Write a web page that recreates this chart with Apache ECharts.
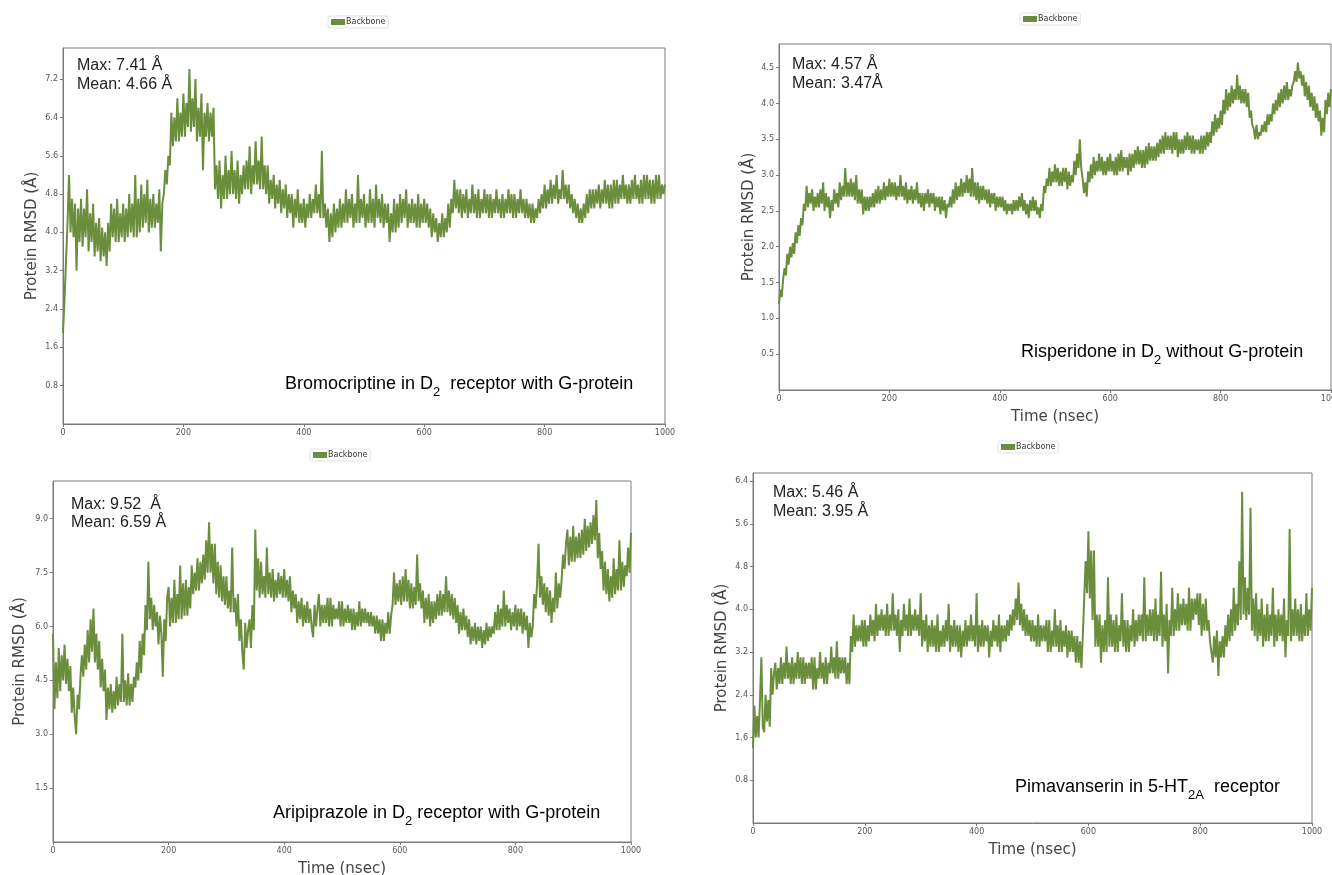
<!DOCTYPE html>
<html>
<head>
<meta charset="utf-8">
<title>Protein RMSD</title>
<script src="https://cdn.jsdelivr.net/npm/echarts@6/dist/echarts.min.js"></script>
<style>
  html, body { margin: 0; padding: 0; background: #fff; }
  #chart { width: 1332px; height: 875px; }
</style>
</head>
<body>
<div id="chart"></div>
<script>
// one RMSD reading every 2.5 ns, 0 .. 1000 ns (each row = 50 ns)
var bromocriptine = [
  1.9, 2.6, 3.4, 4.2, 5.2, 4.0, 4.7, 3.9, 4.6, 3.2, 4.5, 3.8, 4.7, 3.7, 4.5, 3.9, 4.9, 3.6, 4.4, 3.8,
  4.6, 3.5, 4.2, 3.6, 4.3, 3.4, 4.1, 3.5, 4.0, 3.3, 4.2, 3.6, 4.6, 3.9, 4.5, 3.8, 4.7, 3.8, 4.4, 3.9,
  4.6, 3.8, 4.5, 3.9, 4.8, 4.0, 4.6, 3.9, 5.2, 3.9, 4.7, 4.0, 5.0, 4.1, 4.8, 4.2, 5.1, 4.0, 4.7, 4.1,
  4.8, 4.1, 4.6, 4.2, 4.9, 3.6, 4.6, 4.8, 5.3, 5.0, 5.6, 5.4, 6.5, 5.8, 6.4, 5.9, 6.8, 5.9, 6.5, 6.0,
  6.9, 6.0, 6.7, 6.2, 7.41, 6.1, 6.8, 6.2, 7.2, 5.9, 6.6, 6.0, 6.9, 5.3, 6.5, 6.0, 6.7, 5.9, 6.5, 6.0,
  6.6, 4.9, 5.4, 4.7, 5.5, 4.5, 5.2, 4.7, 5.6, 4.7, 5.3, 4.8, 5.7, 4.8, 5.3, 4.7, 5.5, 4.6, 5.2, 4.8,
  5.4, 4.9, 5.5, 4.9, 5.8, 4.8, 5.4, 5.0, 5.9, 5.0, 5.5, 4.9, 6.0, 4.9, 5.4, 4.8, 5.4, 4.6, 5.1, 4.7,
  5.2, 4.5, 5.0, 4.6, 5.1, 4.4, 4.9, 4.5, 5.0, 4.3, 4.8, 4.4, 4.8, 4.1, 4.7, 4.3, 4.9, 4.2, 4.6, 4.2,
  4.7, 4.1, 4.6, 4.3, 4.8, 4.3, 4.7, 4.4, 5.0, 4.4, 4.8, 4.3, 5.7, 4.3, 4.6, 4.1, 4.5, 3.8, 4.4, 3.9,
  4.6, 4.0, 4.5, 4.1, 4.7, 4.1, 4.6, 4.2, 4.9, 4.2, 4.7, 4.3, 4.8, 4.1, 4.6, 4.2, 5.2, 4.2, 4.7, 4.3,
  4.8, 4.1, 4.6, 4.2, 4.9, 4.2, 4.7, 4.1, 5.0, 4.3, 4.7, 4.2, 4.8, 4.1, 4.6, 4.2, 4.6, 3.8, 4.4, 4.0,
  4.7, 4.0, 4.6, 4.1, 4.8, 4.2, 4.7, 4.3, 4.9, 4.1, 4.6, 4.2, 4.7, 4.2, 4.6, 4.1, 4.8, 4.1, 4.6, 4.2,
  4.7, 4.2, 4.6, 4.1, 4.5, 3.9, 4.4, 4.0, 4.3, 3.8, 4.2, 3.9, 4.4, 3.9, 4.3, 4.0, 4.6, 4.1, 4.7, 4.4,
  5.1, 4.5, 4.9, 4.4, 4.9, 4.3, 4.8, 4.4, 4.9, 4.3, 4.7, 4.4, 5.0, 4.4, 4.8, 4.3, 4.9, 4.3, 4.7, 4.4,
  4.9, 4.4, 4.8, 4.3, 4.8, 4.3, 4.7, 4.4, 4.9, 4.4, 4.7, 4.3, 4.8, 4.3, 4.7, 4.4, 4.9, 4.4, 4.8, 4.3,
  4.8, 4.3, 4.7, 4.4, 4.9, 4.4, 4.7, 4.3, 4.7, 4.3, 4.6, 4.2, 4.6, 4.2, 4.5, 4.3, 4.7, 4.4, 4.8, 4.5,
  5.0, 4.5, 4.9, 4.6, 5.1, 4.6, 5.0, 4.7, 5.2, 4.6, 4.9, 4.7, 5.3, 4.7, 5.0, 4.6, 5.0, 4.5, 4.8, 4.4,
  4.7, 4.3, 4.6, 4.2, 4.5, 4.2, 4.6, 4.3, 4.8, 4.4, 4.9, 4.5, 4.9, 4.5, 4.9, 4.6, 5.0, 4.5, 4.9, 4.6,
  5.1, 4.6, 5.0, 4.5, 5.0, 4.5, 5.1, 4.6, 5.1, 4.6, 5.0, 4.7, 5.2, 4.7, 5.0, 4.6, 5.0, 4.6, 5.1, 4.7,
  5.2, 4.7, 5.0, 4.6, 5.1, 4.6, 5.2, 4.7, 5.2, 4.7, 5.1, 4.6, 5.1, 4.6, 5.2, 4.7, 5.2, 4.7, 5.0, 4.8,
  5.0
];
var risperidone = [
  1.2, 1.4, 1.3, 1.55, 1.7, 1.6, 1.9, 1.75, 2.0, 1.85, 2.05, 1.9, 2.2, 2.05, 2.3, 2.15, 2.4, 2.3, 2.6, 2.5,
  2.85, 2.55, 2.75, 2.6, 2.8, 2.5, 2.7, 2.55, 2.75, 2.55, 2.8, 2.6, 2.9, 2.5, 2.75, 2.55, 2.7, 2.4, 2.65, 2.5,
  2.8, 2.6, 2.75, 2.55, 2.9, 2.65, 2.85, 2.7, 3.1, 2.7, 2.9, 2.7, 2.95, 2.7, 2.9, 2.65, 3.0, 2.6, 2.8, 2.6,
  2.8, 2.45, 2.7, 2.5, 2.7, 2.5, 2.7, 2.55, 2.75, 2.55, 2.8, 2.6, 2.85, 2.6, 2.8, 2.65, 2.9, 2.65, 2.85, 2.7,
  2.95, 2.7, 2.9, 2.7, 2.9, 2.65, 2.85, 2.7, 3.0, 2.7, 2.85, 2.65, 2.9, 2.6, 2.8, 2.65, 2.85, 2.6, 2.8, 2.65,
  2.9, 2.6, 2.75, 2.55, 2.75, 2.5, 2.75, 2.6, 2.8, 2.55, 2.75, 2.6, 2.75, 2.5, 2.7, 2.55, 2.7, 2.45, 2.7, 2.5,
  2.65, 2.4, 2.6, 2.55, 2.7, 2.55, 2.8, 2.6, 2.9, 2.65, 2.85, 2.7, 2.95, 2.7, 2.9, 2.75, 3.0, 2.75, 2.95, 2.7,
  3.1, 2.7, 2.9, 2.65, 2.9, 2.6, 2.85, 2.65, 2.85, 2.65, 2.8, 2.6, 2.8, 2.55, 2.75, 2.6, 2.75, 2.5, 2.7, 2.55,
  2.7, 2.55, 2.7, 2.5, 2.65, 2.45, 2.6, 2.5, 2.6, 2.45, 2.65, 2.5, 2.65, 2.5, 2.7, 2.55, 2.75, 2.5, 2.65, 2.45,
  2.6, 2.4, 2.65, 2.5, 2.7, 2.5, 2.65, 2.45, 2.55, 2.4, 2.6, 2.5, 2.85, 2.75, 2.95, 2.85, 3.1, 2.85, 3.05, 2.9,
  3.15, 2.9, 3.1, 2.85, 3.05, 2.85, 3.1, 2.9, 3.1, 2.8, 3.05, 2.85, 3.0, 2.9, 3.2, 3.0, 3.3, 3.1, 3.5, 3.1,
  2.95, 2.75, 2.9, 2.7, 3.05, 2.9, 3.15, 2.95, 3.25, 3.0, 3.2, 3.05, 3.3, 3.05, 3.25, 3.0, 3.2, 3.0, 3.25, 3.05,
  3.3, 3.05, 3.2, 3.0, 3.25, 3.0, 3.3, 3.05, 3.35, 3.05, 3.25, 3.1, 3.25, 3.0, 3.3, 3.05, 3.3, 3.1, 3.35, 3.15,
  3.4, 3.15, 3.35, 3.1, 3.35, 3.1, 3.4, 3.15, 3.45, 3.2, 3.4, 3.2, 3.4, 3.2, 3.45, 3.25, 3.5, 3.3, 3.55, 3.3,
  3.6, 3.35, 3.55, 3.35, 3.55, 3.3, 3.6, 3.35, 3.6, 3.25, 3.5, 3.3, 3.5, 3.3, 3.55, 3.35, 3.6, 3.35, 3.55, 3.3,
  3.55, 3.3, 3.5, 3.35, 3.5, 3.3, 3.55, 3.3, 3.55, 3.35, 3.6, 3.4, 3.6, 3.45, 3.75, 3.55, 3.85, 3.6, 3.8, 3.65,
  3.9, 3.7, 4.05, 3.85, 4.2, 3.9, 4.15, 3.95, 4.25, 4.0, 4.2, 4.05, 4.4, 4.05, 4.25, 4.0, 4.2, 4.0, 4.2, 3.95,
  4.15, 3.8, 3.9, 3.7, 3.65, 3.5, 3.7, 3.5, 3.6, 3.55, 3.7, 3.6, 3.75, 3.6, 3.85, 3.7, 3.85, 3.75, 4.0, 3.85,
  4.05, 3.9, 4.15, 3.95, 4.2, 4.0, 4.25, 4.05, 4.3, 4.05, 4.2, 4.1, 4.25, 4.3, 4.45, 4.3, 4.57, 4.35, 4.45, 4.25,
  4.4, 4.1, 4.3, 4.05, 4.25, 3.95, 4.15, 3.9, 4.1, 3.8, 4.0, 3.75, 3.9, 3.55, 3.8, 3.6, 4.05, 3.85, 4.15, 3.95,
  4.2
];
var aripiprazole = [
  5.8, 3.7, 5.0, 4.0, 5.4, 4.2, 5.2, 4.5, 5.5, 4.4, 5.1, 4.2, 4.9, 3.6, 4.3, 3.5, 3.0, 4.1, 3.7, 4.6,
  5.2, 4.6, 5.5, 4.8, 5.9, 5.0, 6.2, 5.3, 6.5, 5.0, 5.8, 4.8, 5.6, 4.3, 5.1, 4.2, 4.8, 3.4, 4.3, 3.7,
  4.4, 3.6, 4.2, 3.7, 4.6, 3.8, 4.4, 3.9, 5.8, 3.9, 4.5, 3.8, 4.7, 3.8, 4.4, 3.9, 4.6, 4.3, 5.0, 4.5,
  5.6, 4.7, 5.8, 5.2, 6.6, 5.9, 7.8, 6.2, 6.8, 5.9, 6.6, 6.0, 6.4, 5.5, 6.3, 5.8, 4.6, 6.2, 5.6, 6.8,
  7.1, 6.0, 6.8, 6.1, 7.3, 6.1, 6.9, 6.2, 7.7, 6.2, 7.2, 6.3, 7.3, 6.3, 7.1, 6.5, 7.7, 6.9, 7.5, 7.0,
  7.9, 7.0, 7.8, 7.2, 8.0, 7.3, 8.4, 7.5, 8.9, 7.5, 8.3, 7.2, 8.3, 6.9, 7.8, 6.8, 7.7, 6.7, 7.4, 6.6,
  7.4, 6.5, 7.0, 6.4, 8.2, 6.4, 6.8, 6.0, 6.9, 5.6, 6.2, 5.3, 4.8, 6.1, 5.4, 5.9, 6.2, 5.4, 6.6, 5.9,
  8.7, 7.0, 7.9, 6.8, 7.8, 6.9, 7.4, 6.8, 8.2, 6.9, 7.5, 6.8, 7.6, 6.7, 7.3, 6.8, 7.5, 6.9, 7.4, 6.8,
  7.6, 6.8, 7.3, 6.7, 7.4, 6.4, 7.0, 6.5, 6.9, 6.1, 6.7, 6.2, 6.8, 6.0, 6.6, 6.1, 6.7, 6.1, 6.5, 6.0,
  5.7, 6.6, 6.0, 6.5, 6.9, 6.0, 6.6, 6.1, 6.6, 6.1, 6.8, 6.0, 6.8, 6.0, 6.6, 6.2, 6.5, 6.2, 6.7, 6.0,
  6.7, 6.0, 6.5, 6.1, 6.6, 6.1, 6.5, 5.9, 6.5, 5.9, 6.4, 6.0, 6.7, 6.0, 6.5, 6.1, 6.5, 6.1, 6.4, 6.0,
  6.4, 6.0, 6.3, 5.8, 6.3, 5.8, 6.2, 5.6, 6.2, 5.6, 6.1, 5.8, 6.4, 5.8, 6.3, 6.6, 7.5, 6.6, 7.2, 6.7,
  7.3, 6.6, 7.4, 6.7, 7.6, 6.7, 7.3, 6.5, 7.2, 6.5, 7.1, 6.6, 8.0, 6.7, 7.2, 6.5, 7.0, 6.1, 6.8, 6.2,
  6.9, 6.0, 6.7, 6.1, 6.7, 6.2, 6.9, 6.3, 7.0, 6.3, 6.9, 6.4, 7.4, 6.4, 7.0, 6.3, 6.9, 6.2, 6.8, 6.1,
  6.6, 5.8, 6.4, 5.9, 6.5, 5.9, 6.3, 5.7, 6.2, 5.5, 6.0, 5.6, 6.1, 5.5, 6.0, 5.6, 6.0, 5.4, 5.9, 5.5,
  6.1, 5.6, 6.0, 5.7, 6.0, 5.8, 6.4, 5.9, 6.6, 5.9, 6.5, 6.0, 7.0, 6.0, 6.6, 6.1, 6.5, 5.9, 6.4, 6.0,
  6.6, 5.9, 6.5, 6.0, 6.5, 5.8, 6.4, 5.9, 6.3, 5.4, 6.1, 5.7, 6.0, 6.9, 6.5, 7.2, 8.3, 6.8, 7.4, 6.6,
  7.2, 6.4, 7.1, 6.3, 7.0, 6.1, 6.8, 6.4, 7.5, 6.5, 7.2, 6.8, 7.3, 8.0, 7.6, 8.3, 8.7, 7.7, 8.5, 7.8,
  8.8, 7.8, 8.5, 7.9, 8.6, 7.9, 8.7, 8.0, 9.0, 8.1, 8.8, 8.2, 8.9, 8.3, 9.1, 8.4, 9.52, 7.9, 8.6, 7.6,
  8.1, 7.0, 7.8, 6.9, 7.6, 6.7, 7.4, 6.8, 7.9, 6.9, 7.6, 7.0, 8.4, 7.0, 7.8, 7.1, 7.7, 7.4, 8.2, 7.5,
  8.6
];
var pimavanserin = [
  1.4, 2.2, 1.6, 2.0, 1.6, 2.3, 3.1, 1.8, 1.7, 2.4, 1.9, 2.3, 1.8, 2.9, 2.4, 2.8, 3.0, 2.5, 2.9, 2.6,
  3.1, 2.6, 3.0, 2.7, 3.3, 2.7, 3.0, 2.6, 3.1, 2.6, 3.0, 2.7, 3.2, 2.7, 3.1, 2.6, 3.1, 2.6, 3.0, 2.7,
  3.0, 2.7, 3.1, 2.5, 3.1, 2.5, 2.9, 2.7, 3.2, 2.7, 3.0, 2.6, 3.1, 2.6, 3.0, 2.8, 3.3, 2.8, 3.1, 2.7,
  3.4, 2.7, 3.1, 2.8, 3.1, 2.8, 3.1, 2.6, 3.0, 2.6, 3.5, 3.2, 3.9, 3.3, 3.7, 3.4, 3.7, 3.4, 3.8, 3.3,
  3.8, 3.3, 3.7, 3.4, 3.9, 3.5, 3.8, 3.4, 4.1, 3.5, 3.9, 3.6, 4.0, 3.6, 3.9, 3.5, 4.1, 3.5, 3.9, 3.6,
  4.3, 3.6, 3.9, 3.5, 4.0, 3.2, 3.8, 3.5, 4.1, 3.6, 3.9, 3.5, 4.2, 3.5, 3.9, 3.6, 4.0, 3.6, 3.9, 3.5,
  4.3, 3.3, 3.8, 3.4, 3.9, 3.2, 3.7, 3.3, 3.8, 3.3, 3.7, 3.2, 3.9, 3.2, 3.6, 3.3, 3.7, 3.3, 3.8, 3.4,
  4.1, 3.2, 3.7, 3.3, 3.8, 3.3, 3.7, 3.2, 3.7, 3.1, 3.6, 3.3, 3.8, 3.3, 3.7, 3.4, 3.9, 3.4, 3.7, 3.3,
  4.3, 3.2, 3.7, 3.3, 3.8, 3.3, 3.7, 3.4, 3.7, 3.1, 3.6, 3.3, 3.8, 3.4, 3.7, 3.3, 3.9, 3.2, 3.7, 3.4,
  3.7, 3.4, 3.8, 3.5, 3.9, 3.6, 4.0, 3.7, 4.2, 3.8, 4.5, 3.7, 4.1, 3.6, 4.0, 3.5, 3.9, 3.5, 3.8, 3.4,
  3.8, 3.4, 3.7, 3.3, 3.9, 3.3, 3.7, 3.4, 3.7, 3.4, 3.8, 3.2, 3.8, 3.2, 3.6, 3.3, 4.0, 3.3, 3.7, 3.2,
  3.8, 3.2, 3.6, 3.3, 3.7, 3.1, 3.6, 3.2, 3.6, 3.2, 3.5, 3.0, 3.5, 3.0, 3.4, 2.9, 3.5, 4.2, 4.9, 4.3,
  5.46, 4.2, 5.1, 3.8, 5.1, 3.3, 3.9, 3.3, 3.9, 3.0, 3.7, 3.2, 3.8, 3.2, 4.6, 3.3, 3.9, 3.3, 3.8, 3.2,
  3.9, 3.2, 3.7, 3.4, 4.3, 3.3, 3.8, 3.2, 3.8, 3.2, 3.7, 3.4, 4.0, 3.3, 3.8, 3.4, 3.9, 3.5, 3.9, 3.4,
  4.6, 3.4, 3.9, 3.5, 4.0, 3.5, 4.0, 3.4, 4.2, 3.4, 3.9, 3.5, 4.7, 3.3, 3.9, 3.4, 4.1, 2.8, 3.8, 3.5,
  4.4, 3.5, 4.0, 3.6, 4.3, 3.6, 4.1, 3.7, 4.2, 3.7, 4.1, 3.6, 4.4, 3.6, 4.2, 3.8, 4.2, 3.9, 4.3, 3.7,
  4.3, 3.5, 4.1, 3.6, 4.2, 3.6, 3.8, 3.4, 3.4, 3.0, 3.5, 3.1, 3.6, 2.75, 3.4, 3.1, 3.5, 3.1, 3.7, 3.3,
  3.9, 3.4, 4.0, 3.5, 4.4, 3.6, 4.1, 3.7, 4.9, 3.8, 6.2, 3.9, 4.6, 3.8, 4.4, 3.9, 5.9, 3.6, 4.2, 3.5,
  4.3, 3.4, 4.0, 3.5, 4.2, 3.3, 3.9, 3.4, 4.1, 3.4, 3.9, 3.5, 4.4, 3.3, 3.9, 3.4, 4.0, 3.5, 3.9, 3.4,
  4.2, 3.1, 3.8, 3.5, 5.5, 3.4, 4.0, 3.5, 4.2, 3.5, 4.0, 3.4, 4.1, 3.4, 3.9, 3.5, 4.3, 3.5, 4.0, 3.6,
  4.4
];
var timeStep = 2.5;
var xTicks = [0, 200, 400, 600, 800, 1000];

var lineColor = '#6b8e3d';
var frameColor = '#7a7a7a';
var tickFont = 'DejaVu Sans';
var textFont = 'Liberation Sans, Arial, sans-serif';

function toPairs(values) {
    var out = [];
    for (var i = 0; i < values.length; i++) {
        out.push([i * timeStep, values[i]]);
    }
    return out;
}

// panel boxes in pixels
var panels = [
    { left: 63, top: 48, width: 602, height: 376, max: 7.85, interval: 0.8, data: bromocriptine, gap: 23, xName: '' },
    { left: 779, top: 44, width: 552, height: 346, max: 4.83, interval: 0.5, data: risperidone, gap: 22, xName: 'Time (nsec)' },
    { left: 53, top: 481, width: 578, height: 361, max: 10.05, interval: 1.5, data: aripiprazole, gap: 25, xName: 'Time (nsec)' },
    { left: 753, top: 473, width: 559, height: 350, max: 6.55, interval: 0.8, data: pimavanserin, gap: 23, xName: 'Time (nsec)' }
];

var grids = [], xAxes = [], yAxes = [], series = [];
panels.forEach(function (p, i) {
    grids.push({
        left: p.left, top: p.top, width: p.width, height: p.height,
        outerBoundsMode: 'none', containLabel: false,
        show: true, borderColor: frameColor, borderWidth: 1, backgroundColor: '#fff'
    });
    xAxes.push({
        gridIndex: i, type: 'value', min: 0, max: 1000, interval: 200,
        name: p.xName, nameLocation: 'middle', nameGap: 20,
        nameTextStyle: { fontFamily: tickFont, fontSize: 15, color: '#444' },
        axisLine: { lineStyle: { color: frameColor } },
        axisTick: { show: true, length: 3, lineStyle: { color: frameColor } },
        axisLabel: {
            fontFamily: tickFont, fontSize: 8, color: '#555', margin: 5, hideOverlap: false,
            formatter: function (v) { return xTicks.indexOf(v) >= 0 ? String(v) : ''; }
        },
        splitLine: { show: false }
    });
    yAxes.push({
        gridIndex: i, type: 'value', min: 0, max: p.max, interval: p.interval,
        name: 'Protein RMSD (Å)', nameLocation: 'middle', nameGap: p.gap,
        nameTextStyle: { fontFamily: tickFont, fontSize: 15, color: '#444' },
        axisLine: { lineStyle: { color: frameColor } },
        axisTick: { show: true, length: 3, lineStyle: { color: frameColor } },
        axisLabel: {
            fontFamily: tickFont, fontSize: 8, color: '#555', margin: 5,
            showMinLabel: false, showMaxLabel: false,
            formatter: function (v) {
                var k = v / p.interval;
                if (v === 0 || Math.abs(k - Math.round(k)) > 1e-6) return '';
                return v.toFixed(1);
            }
        },
        splitLine: { show: false }
    });
    series.push({
        name: 'Backbone', type: 'line', xAxisIndex: i, yAxisIndex: i,
        data: toPairs(p.data), showSymbol: false, symbol: 'none', sampling: null,
        lineStyle: { color: lineColor, width: 2, join: 'bevel' }, itemStyle: { color: lineColor }
    });
});

function legendAt(left, top) {
    return {
        left: left, top: top, data: ['Backbone'], icon: 'rect', itemWidth: 14, itemHeight: 6,
        itemGap: 2, padding: [2, 3], backgroundColor: '#fff', borderColor: '#e2e2e2', borderWidth: 1,
        borderRadius: 2, selectedMode: false,
        textStyle: { fontFamily: tickFont, fontSize: 8, color: '#333', padding: [0, 0, 0, -4] }
    };
}

function note(x, y, text) {
    return { type: 'text', left: x, top: y, style: { text: text, font: '16px ' + textFont, fill: '#222' } };
}

function caption(x, y, before, sub, after) {
    return {
        type: 'text', left: x, top: y,
        style: {
            text: '{a|' + before + '}{s|' + sub + '}{a|' + after + '}',
            rich: {
                a: { fontFamily: textFont, fontSize: 18, color: '#222' },
                s: { fontFamily: textFont, fontSize: 13, color: '#222', padding: [16, 0, 0, 0] }
            }
        }
    };
}

var option = {
    backgroundColor: '#fff',
    animation: false,
    legend: [legendAt(328, 16), legendAt(1020, 13), legendAt(310, 449), legendAt(998, 441)],
    grid: grids,
    xAxis: xAxes,
    yAxis: yAxes,
    series: series,
    graphic: [
        note(77, 58, 'Max: 7.41 Å'), note(77, 77, 'Mean: 4.66 Å'),
        note(792, 57, 'Max: 4.57 Å'), note(792, 76, 'Mean: 3.47Å'),
        note(71, 497, 'Max: 9.52  Å'), note(71, 515, 'Mean: 6.59 Å'),
        note(773, 485, 'Max: 5.46 Å'), note(773, 504, 'Mean: 3.95 Å'),
        caption(285, 375, 'Bromocriptine in D', '2', '  receptor with G-protein'),
        caption(1021, 343, 'Risperidone in D', '2', ' without G-protein'),
        caption(273, 804, 'Aripiprazole in D', '2', ' receptor with G-protein'),
        caption(1015, 778, 'Pimavanserin in 5-HT', '2A', '  receptor')
    ]
};

var chart = echarts.init(document.getElementById('chart'));
chart.setOption(option);
</script>
</body>
</html>
